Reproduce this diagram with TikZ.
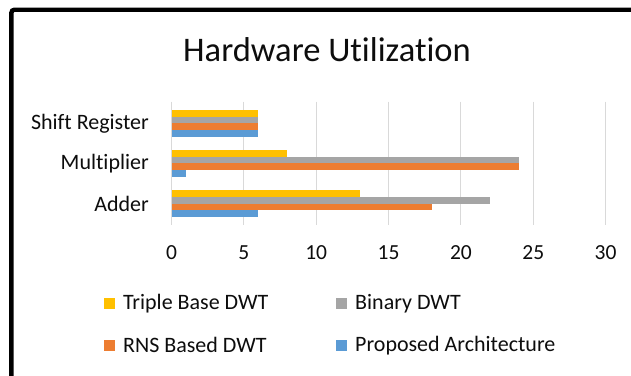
\documentclass[tikz,border=0pt]{standalone}
\usepackage{fontspec}
\setmainfont{Carlito}[Ligatures=NoCommon]
\usepackage{tikz}
\usetikzlibrary{positioning}
\definecolor{ink}{HTML}{0D0D0D}
\definecolor{tribase}{HTML}{FFC000}
\definecolor{binary}{HTML}{A5A5A5}
\definecolor{rns}{HTML}{ED7D31}
\definecolor{proposed}{HTML}{5B9BD5}
\definecolor{gridgray}{HTML}{D9D9D9}
\tikzset{
  charttitle/.style={font=\fontsize{34.5}{40}\selectfont, text=ink, inner sep=0pt},
  catlabel/.style={font=\fontsize{22}{26}\selectfont, text=ink, inner sep=0pt, anchor=east},
  ticklabel/.style={font=\fontsize{21.5}{26}\selectfont, text=ink, inner sep=0pt},
  gridline/.style={draw=gridgray, line width=0.9pt},
  keybox/.style={minimum width=11pt, minimum height=11pt, inner sep=0pt},
  keytext/.style={font=\fontsize{22}{26}\selectfont, text=ink, inner sep=0pt},
}
% value axis: 0 at x=171.5, 14.47 per unit
\newcommand{\xval}[1]{171.5+14.47*#1}

\begin{document}
\begin{tikzpicture}[x=1pt, y=-1pt]
  \useasboundingbox (0,0) rectangle (631,375);
  \fill[white] (0,0) rectangle (631,375);
  \clip (0,0) rectangle (631,375);

  % frame (only top and left edge in view)
  \draw[line width=4.4pt, rounded corners=3pt] (11.4,390) -- (11.4,9.7) -- (650,9.7);

  \node[charttitle, anchor=base] (title) at (327,61.7) {Hardware Utilization};

  % grid and value axis
  \foreach \v in {0,5,...,30} {
    \draw[gridline] ({\xval{\v}},101.7) -- ({\xval{\v}},225);
    \node[ticklabel] (tick\v) at ({\xval{\v}},253) {\v};
  }

  % bars, top to bottom: triple base, binary, rns, proposed
  \foreach \cy/\cat/\lbl/\a/\b/\c/\d in {123.4/shift/Shift Register/6/6/6/6,
                                     163.3/mult/Multiplier/8/24/24/1,
                                     203.5/adder/Adder/13/22/18/6} {
    \fill[tribase]  (171.5,\cy-13.4) rectangle ({\xval{\a}},\cy-6.7);
    \fill[binary]   (171.5,\cy-6.7)  rectangle ({\xval{\b}},\cy);
    \fill[rns]      (171.5,\cy)      rectangle ({\xval{\c}},\cy+6.7);
    \fill[proposed] (171.5,\cy+6.7)  rectangle ({\xval{\d}},\cy+13.4);
    \node[catlabel] (\cat) at (149,\cy) {\lbl};
  }

  % legend
  \node[keybox, fill=tribase]  (keytri) at (109.7,303.5) {};
  \node[keybox, fill=binary]   (keybin) at (341.8,303.5) {};
  \node[keybox, fill=rns]      (keyrns) at (109.7,345.2) {};
  \node[keybox, fill=proposed] (keypro) at (341.8,345.2) {};
  \node[keytext, right=7.5pt of keytri] (txttri) {Triple Base DWT};
  \node[keytext, right=7.5pt of keybin] (txtbin) {Binary DWT};
  \node[keytext, right=7.5pt of keyrns] (txtrns) {RNS Based DWT};
  \node[keytext, right=7.5pt of keypro] (txtpro) {Proposed Architecture};
\end{tikzpicture}
\end{document}
